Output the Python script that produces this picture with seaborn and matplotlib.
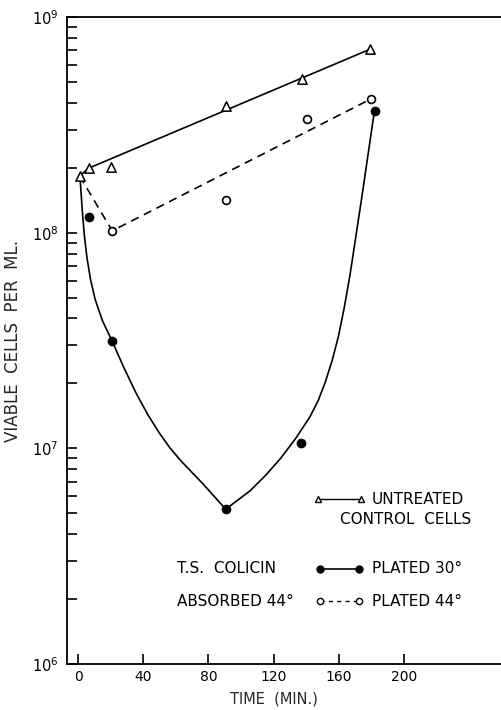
import numpy as np
import pandas as pd
import matplotlib
matplotlib.use("Agg")
import matplotlib.pyplot as plt
import seaborn as sns
from matplotlib.lines import Line2D

# ---------------------------------------------------------------
# Data
# ---------------------------------------------------------------
# untreated control cells (open triangles)
control_t = [1, 6.5, 20.5, 90.5, 137.5, 179]
control_v = [1.83e8, 1.99e8, 2.02e8, 3.87e8, 5.18e8, 7.08e8]
# drawn line for the controls
control_line_t = [1, 6.5, 179]
control_line_v = [1.83e8, 1.99e8, 7.08e8]

# absorbed 44 deg, plated 44 deg (open circles, dashed line)
p44_t = [21, 91, 140.5, 180]
p44_v = [1.02e8, 1.42e8, 3.36e8, 4.18e8]
p44_line_t = [1, 21, 180]
p44_line_v = [1.83e8, 1.02e8, 4.18e8]

# absorbed 44 deg, plated 30 deg (filled circles, hand drawn curve)
p30_t = [7, 21, 90.5, 137, 182]
p30_v = [1.18e8, 3.16e7, 5.24e6, 1.06e7, 3.68e8]
# trace of the hand drawn curve
p30_curve_t = [1.23, 1.84, 2.70, 3.87, 5.52, 7.73, 10.61, 15.03, 20.86,
               28.22, 35.58, 42.94, 50.31, 56.44, 63.19, 76.69, 90.61,
               105.52, 115.34, 124.54, 133.74, 142.33, 147.24, 151.53,
               155.83, 159.69, 163.19, 166.87, 174.23, 181.78]
p30_curve_v = [1.818e8, 1.544e8, 1.247e8, 9.75e7, 7.63e7, 6.04e7, 4.88e7,
               3.90e7, 3.15e7, 2.36e7, 1.806e7, 1.428e7, 1.166e7, 1.004e7,
               8.74e6, 6.84e6, 5.22e6, 6.35e6, 7.53e6, 9.03e6, 1.117e7,
               1.402e7, 1.658e7, 2.01e7, 2.542e7, 3.284e7, 4.43e7, 6.37e7,
               1.480e8, 3.64e8]

xticks = [0, 40, 80, 120, 160, 200]
yticks = [1e6, 1e7, 1e8, 1e9]
ytick_labels = [r"$\mathregular{10^6}$", r"$\mathregular{10^7}$",
                r"$\mathregular{10^8}$", r"$\mathregular{10^9}$"]

# ---------------------------------------------------------------
# Style
# ---------------------------------------------------------------
sns.set_theme(style="ticks")
plt.rcParams["font.family"] = ["DejaVu Sans"]
plt.rcParams["axes.linewidth"] = 1.3
plt.rcParams["text.color"] = "black"

fig = plt.figure(figsize=(5.01, 7.10), dpi=100)
ax = fig.add_axes([67 / 501, 1 - 664 / 710, 1 - 67 / 501, (664 - 17) / 710])

lw = 1.2
sns.lineplot(x=control_line_t, y=control_line_v, color="black", lw=lw, ax=ax)
sns.lineplot(x=p44_line_t, y=p44_line_v, color="black", lw=lw,
             linestyle=(0, (5, 3.5)), ax=ax)
sns.lineplot(x=p30_curve_t, y=p30_curve_v, color="black", lw=lw, ax=ax)

sns.scatterplot(x=control_t, y=control_v, marker="^", s=45, facecolor="white",
                edgecolor="black", linewidth=1.1, ax=ax, zorder=5)
sns.scatterplot(x=p44_t, y=p44_v, marker="o", s=32, facecolor="white",
                edgecolor="black", linewidth=1.2, ax=ax, zorder=5)
sns.scatterplot(x=p30_t, y=p30_v, marker="o", s=42, color="black",
                edgecolor="black", ax=ax, zorder=5)

ax.set_yscale("log")
ax.set_xlim(-6.75, 259.5)
ax.set_ylim(1e6, 1e9)
ax.set_xticks(xticks)
ax.set_xticklabels([str(t) for t in xticks], fontsize=10)
ax.set_yticks(yticks)
ax.set_yticklabels(ytick_labels, fontsize=10.5)
ax.yaxis.set_minor_locator(matplotlib.ticker.LogLocator(base=10, subs=np.arange(2, 10)))
ax.yaxis.set_minor_formatter(matplotlib.ticker.NullFormatter())
ax.tick_params(axis="both", which="both", direction="in", length=7.5,
               width=1.2, colors="black")
ax.tick_params(axis="x", which="major", pad=4)
ax.tick_params(axis="y", which="major", pad=6)
ax.spines["right"].set_visible(False)
for s in ["left", "bottom", "top"]:
    ax.spines[s].set_color("black")

ax.set_ylabel("VIABLE  CELLS  PER  ML.", fontsize=12)
ax.yaxis.set_label_coords(-0.104, 0.5)
ax.set_xlabel("TIME  (MIN.)", fontsize=10.5)
ax.xaxis.set_label_coords(0.477, -0.043)

# ---------------------------------------------------------------
# Hand made key in the lower right
# ---------------------------------------------------------------
tr = ax.transAxes
fs = 11
ax.add_line(Line2D([0.578, 0.677], [0.255, 0.255], transform=tr, color="black",
                   lw=1.0, marker="^", ms=5, mfc="white", mec="black"))
ax.text(0.703, 0.255, "UNTREATED", transform=tr, fontsize=fs, va="center")
ax.text(0.629, 0.224, "CONTROL  CELLS", transform=tr, fontsize=fs, va="center")

ax.text(0.253, 0.147, "T.S.  COLICIN", transform=tr, fontsize=fs, va="center")
ax.add_line(Line2D([0.583, 0.673], [0.147, 0.147], transform=tr, color="black",
                   lw=1.2, marker="o", ms=5, mfc="black", mec="black"))
ax.text(0.703, 0.147, "PLATED 30°", transform=tr, fontsize=fs, va="center")

ax.text(0.253, 0.097, "ABSORBED 44°", transform=tr, fontsize=fs, va="center")
ax.add_line(Line2D([0.583, 0.673], [0.097, 0.097], transform=tr, color="black",
                   lw=1.0, linestyle=(0, (3, 3)), marker="o", ms=4.5,
                   mfc="white", mec="black"))
ax.text(0.703, 0.097, "PLATED 44°", transform=tr, fontsize=fs, va="center")

fig.savefig("out.png", dpi=100)
